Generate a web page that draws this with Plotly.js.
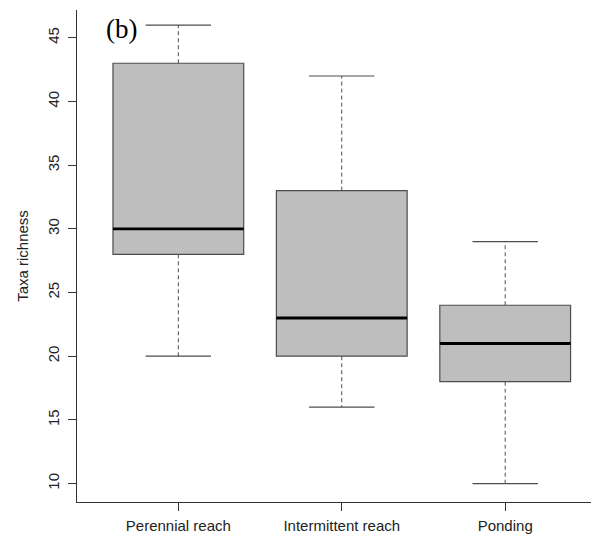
<!DOCTYPE html>
<html>
<head>
<meta charset="utf-8">
<script src="https://cdn.plot.ly/plotly-3.0.1.min.js"></script>
<style>html,body{margin:0;padding:0;background:#fff;}#chart{width:591px;height:543px;}</style>
</head>
<body>
<div id="chart"></div>
<script>
var categories = ["Perennial reach", "Intermittent reach", "Ponding"];
var minVals = [20, 16, 10];
var q1Vals = [28, 20, 18];
var medianVals = [30, 23, 21];
var q3Vals = [43, 33, 24];
var maxVals = [46, 42, 29];
var yTickVals = [10, 15, 20, 25, 30, 35, 40, 45];
var panelLabel = "(b)";
var yTitle = "Taxa richness";

var pos = categories.map(function (c, i) { return i + 1; });
var boxW = 0.8, capW = 0.4;

var traces = [];
traces.push({
  type: "bar",
  x: pos,
  base: q1Vals,
  y: q3Vals.map(function (v, i) { return v - q1Vals[i]; }),
  width: pos.map(function () { return boxW; }),
  marker: { color: "#bebebe", line: { color: "#4d4d4d", width: 1.2 } },
  hoverinfo: "skip"
});
function seg(fx, fy) {
  var xs = [], ys = [];
  pos.forEach(function (p, i) {
    var a = fx(p, i), b = fy(p, i);
    xs.push(a[0], a[1], null);
    ys.push(b[0], b[1], null);
  });
  return { x: xs, y: ys };
}
var upW = seg(function (p) { return [p, p]; }, function (p, i) { return [q3Vals[i], maxVals[i]]; });
var loW = seg(function (p) { return [p, p]; }, function (p, i) { return [q1Vals[i], minVals[i]]; });
[upW, loW].forEach(function (s) {
  traces.push({ type: "scatter", mode: "lines", x: s.x, y: s.y,
    line: { color: "#4d4d4d", width: 1, dash: "4px,3px" }, hoverinfo: "skip" });
});
var capTop = seg(function (p) { return [p - capW / 2, p + capW / 2]; }, function (p, i) { return [maxVals[i], maxVals[i]]; });
var capBot = seg(function (p) { return [p - capW / 2, p + capW / 2]; }, function (p, i) { return [minVals[i], minVals[i]]; });
[capTop, capBot].forEach(function (s) {
  traces.push({ type: "scatter", mode: "lines", x: s.x, y: s.y,
    line: { color: "#4d4d4d", width: 1.2 }, hoverinfo: "skip" });
});
var med = seg(function (p) { return [p - boxW / 2, p + boxW / 2]; }, function (p, i) { return [medianVals[i], medianVals[i]]; });
traces.push({ type: "scatter", mode: "lines", x: med.x, y: med.y,
  line: { color: "#000000", width: 2.8 }, hoverinfo: "skip" });

var layout = {
  width: 591, height: 543,
  margin: { l: 77, r: 0, t: 10, b: 41 },
  paper_bgcolor: "#ffffff", plot_bgcolor: "#ffffff",
  showlegend: false,
  font: { family: "Liberation Sans, Arial, sans-serif", color: "#222", size: 15 },
  xaxis: {
    range: [0.38, 3.525], showgrid: false, zeroline: false,
    showline: true, linecolor: "#333", linewidth: 1,
    tickmode: "array", tickvals: pos, ticktext: categories,
    ticks: "outside", ticklen: 8, tickcolor: "#333", tickwidth: 1,
    ticklabelstandoff: 2,
    tickfont: { size: 15, color: "#222" }
  },
  yaxis: {
    range: [8.555, 47.18], showgrid: false, zeroline: false,
    showline: true, linecolor: "#333", linewidth: 1,
    tickmode: "array", tickvals: yTickVals,
    ticks: "outside", ticklen: 8, tickcolor: "#333", tickwidth: 1,
    ticklabelstandoff: 3,
    tickangle: -90, tickfont: { size: 15, color: "#222" },
    title: { text: yTitle, font: { size: 15, color: "#222" }, standoff: 12 }
  },
  annotations: [{
    xref: "paper", yref: "paper", x: 0.0875, y: 0.961,
    xanchor: "center", yanchor: "middle", showarrow: false,
    text: panelLabel, font: { family: "Liberation Serif, Times New Roman, serif", size: 27, color: "#000" }
  }]
};
Plotly.newPlot("chart", traces, layout, { displayModeBar: false, staticPlot: true });
</script>
</body>
</html>
